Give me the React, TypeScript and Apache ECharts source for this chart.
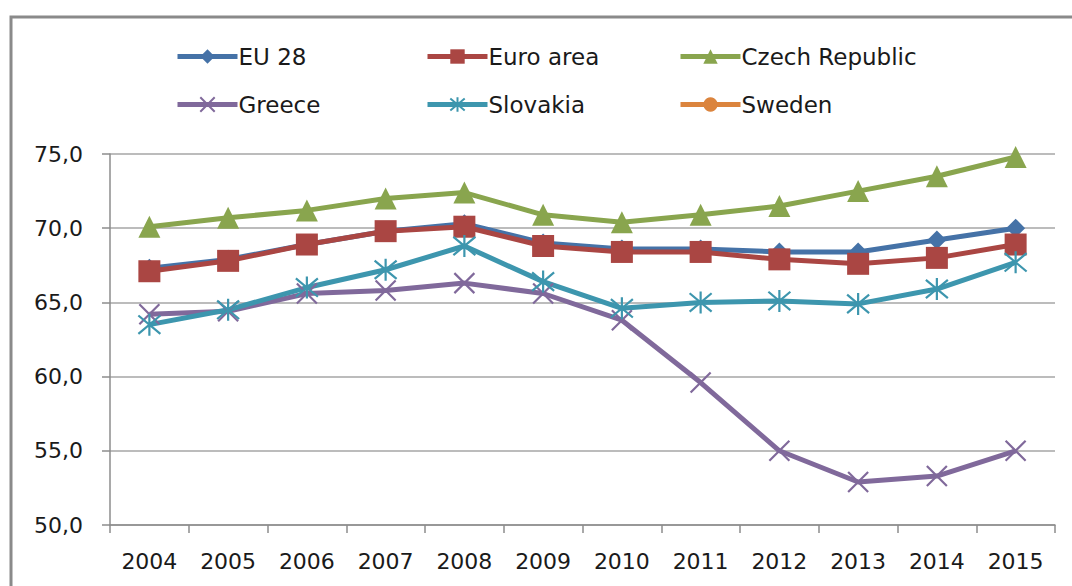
import React, { useEffect, useRef } from "react";
import * as echarts from "echarts";

const years = ["2004", "2005", "2006", "2007", "2008", "2009", "2010", "2011", "2012", "2013", "2014", "2015"];
const eu28 = [67.3, 67.9, 68.9, 69.8, 70.3, 69.0, 68.6, 68.6, 68.4, 68.4, 69.2, 70.0];
const euroArea = [67.1, 67.8, 68.9, 69.8, 70.1, 68.8, 68.4, 68.4, 67.9, 67.6, 68.0, 68.9];
const czech = [70.1, 70.7, 71.2, 72.0, 72.4, 70.9, 70.4, 70.9, 71.5, 72.5, 73.5, 74.8];
const greece = [64.2, 64.4, 65.6, 65.8, 66.3, 65.6, 63.8, 59.6, 55.0, 52.9, 53.3, 55.0];
const slovakia = [63.5, 64.5, 66.0, 67.2, 68.8, 66.4, 64.6, 65.0, 65.1, 64.9, 65.9, 67.7];
// Sweden lies above the plotted range (not visible in the chart)
const sweden: (number | null)[] = [null, null, null, null, null, null, null, null, null, null, null, null];

const seriesNames = ["EU 28", "Euro area", "Czech Republic", "Greece", "Slovakia", "Sweden"];
const colors = ["#4572A7", "#AA4643", "#89A54E", "#80699B", "#3D96AE", "#DB843D"];

const FONT = "DejaVu Sans";

export default function App() {
  const ref = useRef<HTMLDivElement>(null);
  useEffect(() => {
    if (!ref.current) return;
    const chart = echarts.init(ref.current, null, { renderer: "svg" });
    const crossPath = "path://M0,0L10,10M10,0L0,10";
    const starPath = "path://M0,0L10,10M10,0L0,10M5,-1L5,11";
    const symbols = ["diamond", "rect", "triangle", crossPath, starPath, "circle"];
    const sizes = [19, 22, 22, 20, 22, 18];
    const datas = [eu28, euroArea, czech, greece, slovakia, sweden];

    const legendPos = [
      { left: 175, top: 45 },
      { left: 425, top: 45 },
      { left: 678, top: 45 },
      { left: 175, top: 93 },
      { left: 425, top: 93 },
      { left: 678, top: 93 },
    ];

    chart.setOption({
      animation: false,
      color: colors,
      textStyle: { fontFamily: FONT },
      graphic: [
        {
          type: "rect",
          shape: { x: 11, y: 17, width: 1100, height: 620 },
          style: { fill: "none", stroke: "#8a8a8a", lineWidth: 3 },
          silent: true,
        },
      ],
      legend: seriesNames.map((n, i) => ({
        data: [n],
        left: legendPos[i].left,
        top: legendPos[i].top,
        padding: 0,
        itemWidth: 60,
        itemHeight: 18,
        itemGap: 5,
        lineStyle: { width: 5 },
        textStyle: { fontFamily: FONT, fontSize: 23, color: "#1a1a1a", padding: [0, 0, 0, -4] },
        selectedMode: false,
      })),
      grid: { left: 110, right: 17, top: 154, bottom: 61, containLabel: false },
      xAxis: {
        type: "category",
        data: years,
        boundaryGap: true,
        axisLine: { lineStyle: { color: "#8c8c8c", width: 1.5 } },
        axisTick: { show: true, length: 8, lineStyle: { color: "#8c8c8c", width: 1.5 } },
        axisLabel: { fontFamily: FONT, fontSize: 22, color: "#1a1a1a", margin: 25 },
        splitLine: { show: false },
      },
      yAxis: {
        type: "value",
        min: 50,
        max: 75,
        interval: 5,
        axisLine: { show: true, lineStyle: { color: "#8c8c8c", width: 1.5 } },
        axisTick: { show: true, length: 8, lineStyle: { color: "#8c8c8c", width: 1.5 } },
        axisLabel: {
          fontFamily: FONT,
          fontSize: 22,
          color: "#1a1a1a",
          margin: 27,
          formatter: (v: number) => v.toFixed(1).replace(".", ","),
        },
        splitLine: { show: true, lineStyle: { color: "#a6a6a6", width: 1.5 } },
      },
      series: seriesNames.map((n, i) => ({
        name: n,
        type: "line",
        data: datas[i],
        symbol: symbols[i],
        symbolSize: sizes[i],
        showAllSymbol: true,
        clip: true,
        lineStyle: { width: 5, color: colors[i] },
        itemStyle:
          i === 3 || i === 4
            ? { color: colors[i], borderColor: colors[i], borderWidth: 2.2 }
            : { color: colors[i], borderColor: colors[i], borderWidth: 0 },
        emphasis: { disabled: true },
      })),
    });
    return () => chart.dispose();
  }, []);
  return (
    <div
      ref={ref}
      style={{ position: "absolute", left: 0, top: 0, width: 1072, height: 586, background: "#fff" }}
    />
  );
}
